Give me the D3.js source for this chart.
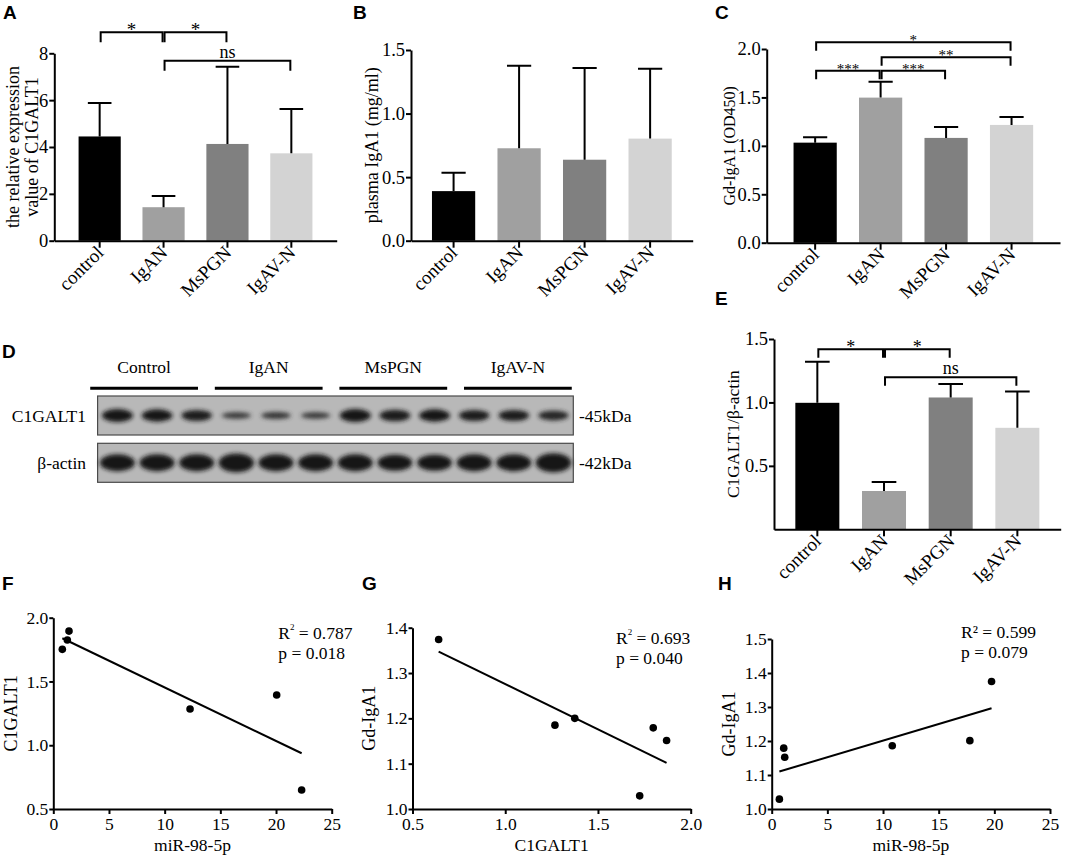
<!DOCTYPE html>
<html>
<head>
<meta charset="utf-8">
<script src="https://cdn.jsdelivr.net/npm/d3@7"></script>
<style>
body { margin: 0; background: #fff; }
svg text { font-family: "Liberation Serif", "Times New Roman", serif; fill: #000; }
.panel { font-family: "Liberation Sans", Arial, sans-serif !important; font-weight: bold; font-size: 19px; }
</style>
</head>
<body>
<svg id="fig" width="1065" height="856"></svg>
<script>
// groups shared by all bar panels
const groups = ["control", "IgAN", "MsPGN", "IgAV-N"];
const groupFill = ["#000000", "#a0a0a0", "#808080", "#d3d3d3"];

// A: relative expression of C1GALT1 (mean, sd)
const relExprMean = [4.45, 1.43, 4.13, 3.73];
const relExprSd = [1.43, 0.48, 3.30, 1.89];
// B: plasma IgA1 (mg/ml)
const igA1Mean = [0.39, 0.727, 0.637, 0.803];
const igA1Sd = [0.145, 0.65, 0.722, 0.55];
// C: Gd-IgA1 (OD450)
const gdMean = [1.033, 1.498, 1.082, 1.216];
const gdSd = [0.056, 0.165, 0.113, 0.083];
// E: C1GALT1 / beta-actin
const ratioMean = [0.997, 0.302, 1.039, 0.80];
const ratioSd = [0.323, 0.07, 0.107, 0.287];

// significance comparisons [from, to, label]
const sigA = [[0, 1, "*"], [1, 2, "*"], [1, 3, "ns"]];
const sigC = [[0, 3, "*"], [1, 3, "**"], [0, 1, "***"], [1, 2, "***"]];
const sigE = [[0, 1, "*"], [1, 2, "*"], [1, 3, "ns"]];

// D: western blot
const blotGroups = ["Control", "IgAN", "MsPGN", "IgAV-N"];
const blotRows = ["C1GALT1", "β-actin"];
const blotMarkers = ["-45kDa", "-42kDa"];
const c1galt1Band = [1.0, 0.95, 0.85, 0.5, 0.55, 0.5, 1.0, 0.9, 0.95, 0.85, 0.85, 0.75];
const actinBand = [1.0, 1.0, 1.0, 1.1, 1.0, 1.0, 1.0, 0.95, 0.95, 1.0, 1.0, 1.12];

// F: miR-98-5p vs C1GALT1
const fMir = [0.81, 1.26, 1.41, 12.28, 20.06, 22.3];
const fC1galt1 = [1.752, 1.825, 1.895, 1.284, 1.394, 0.649];
// G: C1GALT1 vs Gd-IgA1
const gC1galt1 = [0.641, 1.268, 1.375, 1.798, 1.870, 1.725];
const gGd = [1.374, 1.185, 1.2, 1.179, 1.151, 1.029];
// H: miR-98-5p vs Gd-IgA1
const hMir = [0.69, 1.08, 1.17, 10.83, 17.8, 19.75];
const hGd = [1.029, 1.179, 1.152, 1.186, 1.201, 1.375];

const fStats = ["0.787", "0.018"];
const gStats = ["0.693", "0.040"];
const hStats = ["0.599", "0.079"];

const svg = d3.select("#fig");

function styleAxis(sel, size) {
  sel.attr("font-family", "Liberation Serif").attr("font-size", size);
  sel.selectAll("path, line").attr("stroke", "#000").attr("stroke-width", 2);
  sel.selectAll("text").attr("fill", "#000");
}

function barChart(cfg) {
  const g = svg.append("g");
  const x = d3.scaleBand().domain(groups).range([cfg.x0, cfg.x1])
    .paddingInner(0.34).paddingOuter(cfg.outer);
  const y = d3.scaleLinear().domain(cfg.domain).range([cfg.yBottom, cfg.yTop]);
  const cx = i => x(groups[i]) + x.bandwidth() / 2;

  g.selectAll("rect").data(cfg.mean).join("rect")
    .attr("x", (d, i) => x(groups[i]))
    .attr("width", x.bandwidth())
    .attr("y", d => y(d))
    .attr("height", d => y(0) - y(d))
    .attr("fill", (d, i) => groupFill[i]);

  // upper error bars only
  const cap = x.bandwidth() * 0.28;
  const err = g.append("g").attr("stroke", "#000").attr("stroke-width", 2).attr("fill", "none");
  cfg.mean.forEach((m, i) => {
    const top = y(m + cfg.sd[i]);
    err.append("path").attr("d", `M${cx(i)},${y(m)}V${top}M${cx(i) - cap},${top}H${cx(i) + cap}`);
  });

  g.append("g").attr("transform", `translate(${cfg.x0},0)`)
    .call(d3.axisLeft(y).tickValues(cfg.ticks).tickFormat(cfg.fmt).tickSize(5).tickPadding(1).tickSizeOuter(0))
    .call(styleAxis, 18.5);

  g.append("g").attr("transform", `translate(0,${y(0)})`)
    .call(d3.axisBottom(x).tickSize(7).tickSizeOuter(0).tickFormat(""))
    .call(styleAxis, 18);

  g.selectAll("text.xl").data(groups).join("text")
    .attr("class", "xl")
    .attr("transform", (d, i) => `translate(${cx(i) + 5},${y(0) + 13}) rotate(-45)`)
    .attr("text-anchor", "end")
    .attr("font-size", 19)
    .text(d => d);

  // y title
  const yt = g.append("text")
    .attr("transform", `translate(${cfg.titleX},${(cfg.yBottom + cfg.yTop) / 2}) rotate(-90)`)
    .attr("text-anchor", "middle")
    .attr("font-size", cfg.titleSize);
  cfg.title.forEach((t, k) => {
    yt.append("tspan").attr("x", 0).attr("dy", k === 0 ? 0 : cfg.titleSize * 1.05).text(t);
  });

  // significance brackets
  if (cfg.sig) {
    cfg.sig.forEach(([a, b, lab], k) => {
      const lv = cfg.levels[k];
      const x1 = cx(a) + 1, x2 = cx(b) - 1;
      g.append("path")
        .attr("d", `M${x1},${lv + cfg.leg}V${lv}H${x2}V${lv + cfg.leg}`)
        .attr("fill", "none").attr("stroke", "#000").attr("stroke-width", 2);
      const isNs = lab === "ns";
      g.append("text")
        .attr("x", (x1 + x2) / 2)
        .attr("y", isNs ? lv - 3 : lv + cfg.starSize * 0.29 - 1.5)
        .attr("text-anchor", "middle")
        .attr("font-size", isNs ? 18 : cfg.starSize)
        .text(lab);
    });
  }
}

barChart({
  x0: 54.3, x1: 336.7, outer: 0.38, yBottom: 240.7, yTop: 53.3, domain: [0, 8],
  ticks: [0, 2, 4, 6, 8], fmt: d3.format("d"), mean: relExprMean, sd: relExprSd,
  title: ["the relative expression", "value of C1GALT1"], titleX: 19, titleSize: 18,
  sig: sigA, levels: [32.3, 32.3, 60.7], leg: 10, starSize: 19
});

barChart({
  x0: 411, x1: 692.7, outer: 0.32, yBottom: 240.7, yTop: 50, domain: [0, 1.5],
  ticks: [0, 0.5, 1, 1.5], fmt: d3.format(".1f"), mean: igA1Mean, sd: igA1Sd,
  title: ["plasma IgA1 (mg/ml)"], titleX: 378, titleSize: 18
});

barChart({
  x0: 766.7, x1: 1060, outer: 0.41, yBottom: 242.7, yTop: 49, domain: [0, 2],
  ticks: [0, 0.5, 1, 1.5, 2], fmt: d3.format(".1f"), mean: gdMean, sd: gdSd,
  title: ["Gd-IgA1 (OD450)"], titleX: 735, titleSize: 16,
  sig: sigC, levels: [42.3, 57.3, 70.7, 70.7], leg: 8.5, starSize: 15
});

barChart({
  x0: 774, x1: 1060.7, outer: 0.32, yBottom: 529.3, yTop: 339, domain: [0, 1.5],
  ticks: [0.5, 1, 1.5], fmt: d3.format(".1f"), mean: ratioMean, sd: ratioSd,
  title: ["C1GALT1/β-actin"], titleX: 739, titleSize: 17.5,
  sig: sigE, levels: [349.3, 349.3, 377.3], leg: 8.5, starSize: 18
});

// ---- D: western blot ----
(function blot() {
  const g = svg.append("g");
  const left = 97.6, right = 573.3;
  const rowY = [396, 443.3], rowH = 39;
  const lane = d3.scalePoint().domain(d3.range(12)).range([left, right]).padding(0.5);
  const grp = d3.scaleBand().domain(blotGroups).range([84, 578]).paddingInner(0.135).paddingOuter(0.05);

  const defs = svg.append("defs");
  defs.append("filter").attr("id", "blur").attr("x", "-30%").attr("y", "-80%")
    .attr("width", "160%").attr("height", "260%")
    .append("feGaussianBlur").attr("stdDeviation", 1.9);

  g.selectAll("text.gl").data(blotGroups).join("text")
    .attr("class", "gl")
    .attr("x", d => grp(d) + grp.bandwidth() / 2)
    .attr("y", 372.7)
    .attr("text-anchor", "middle")
    .attr("font-size", 17.5)
    .text(d => d);

  g.selectAll("line.gline").data(blotGroups).join("line")
    .attr("class", "gline")
    .attr("x1", d => grp(d)).attr("x2", d => grp(d) + grp.bandwidth())
    .attr("y1", 388.3).attr("y2", 388.3)
    .attr("stroke", "#000").attr("stroke-width", 3);

  const bands = [c1galt1Band, actinBand];
  const bandRx = [15.5, 17.5], bandRy = [6.5, 8.5];
  bands.forEach((vals, r) => {
    g.append("rect")
      .attr("x", left).attr("y", rowY[r]).attr("width", right - left).attr("height", rowH)
      .attr("fill", "#b8b8b8").attr("stroke", "#4a4a4a").attr("stroke-width", 1.2);
    const cy = rowY[r] + rowH / 2;
    g.append("g").attr("filter", "url(#blur)")
      .selectAll("ellipse").data(vals).join("ellipse")
      .attr("cx", (d, i) => lane(i))
      .attr("cy", cy)
      .attr("rx", d => bandRx[r] * (0.88 + 0.12 * d))
      .attr("ry", d => bandRy[r] * d)
      .attr("fill", d => d3.interpolateRgb("#5a5a5a", "#151515")(Math.min(1, d)));
    g.append("text").attr("x", 86).attr("y", cy + 6).attr("text-anchor", "end")
      .attr("font-size", 17.5).text(blotRows[r]);
    g.append("text").attr("x", 579).attr("y", cy + 6)
      .attr("font-size", 17.5).text(blotMarkers[r]);
  });
})();

// ---- scatter panels ----
function scatter(cfg) {
  const g = svg.append("g");
  const x = d3.scaleLinear().domain(cfg.xDomain).range([cfg.x0, cfg.x1]);
  const y = d3.scaleLinear().domain(cfg.yDomain).range([cfg.yBottom, cfg.yTop]);

  g.append("g").attr("transform", `translate(${cfg.x0},0)`)
    .call(d3.axisLeft(y).tickValues(cfg.yTicks).tickFormat(d3.format(".1f")).tickSize(4).tickPadding(1).tickSizeOuter(0))
    .call(styleAxis, 17.5);
  g.append("g").attr("transform", `translate(0,${cfg.yBottom})`)
    .call(d3.axisBottom(x).tickValues(cfg.xTicks).tickFormat(cfg.xFmt).tickSize(5).tickPadding(4).tickSizeOuter(0))
    .call(styleAxis, 17.5);

  // least squares fit
  const mx = d3.mean(cfg.xs), my = d3.mean(cfg.ys);
  const sxy = d3.sum(cfg.xs, (v, i) => (v - mx) * (cfg.ys[i] - my));
  const sxx = d3.sum(cfg.xs, v => (v - mx) * (v - mx));
  const slope = sxy / sxx, icpt = my - slope * mx;
  const ext = d3.extent(cfg.xs);
  g.append("line")
    .attr("x1", x(ext[0])).attr("y1", y(icpt + slope * ext[0]))
    .attr("x2", x(ext[1])).attr("y2", y(icpt + slope * ext[1]))
    .attr("stroke", "#000").attr("stroke-width", 2);

  g.selectAll("circle").data(cfg.xs).join("circle")
    .attr("cx", d => x(d))
    .attr("cy", (d, i) => y(cfg.ys[i]))
    .attr("r", 3.8).attr("fill", "#000");

  const r2 = g.append("text").attr("x", cfg.statX).attr("y", cfg.statY).attr("font-size", 17.5);
  if (cfg.sup) {
    r2.append("tspan").text("R");
    r2.append("tspan").attr("font-size", 9).attr("dy", -9).text("2");
    r2.append("tspan").attr("dy", 9).text(" = " + cfg.stats[0]);
  } else {
    r2.text("R² = " + cfg.stats[0]);
  }
  g.append("text").attr("x", cfg.statX).attr("y", cfg.statY + 20).attr("font-size", 17.5)
    .text("p = " + cfg.stats[1]);

  g.append("text")
    .attr("x", (cfg.x0 + cfg.x1) / 2).attr("y", cfg.xTitleY)
    .attr("text-anchor", "middle").attr("font-size", 17.5).text(cfg.xTitle);
  g.append("text")
    .attr("transform", `translate(${cfg.yTitleX},${(cfg.yBottom + cfg.yTop) / 2}) rotate(-90)`)
    .attr("text-anchor", "middle").attr("font-size", 18).text(cfg.yTitle);
}

scatter({
  x0: 53.3, x1: 331.7, yBottom: 809, yTop: 617.7, xDomain: [0, 25], yDomain: [0.5, 2.0],
  xTicks: [0, 5, 10, 15, 20, 25], xFmt: d3.format("d"), yTicks: [0.5, 1, 1.5, 2],
  xs: fMir, ys: fC1galt1, stats: fStats, sup: true, statX: 278.3, statY: 639.3,
  xTitle: "miR-98-5p", xTitleY: 851, yTitle: "C1GALT1", yTitleX: 17
});

scatter({
  x0: 412.5, x1: 690.7, yBottom: 809, yTop: 627.7, xDomain: [0.5, 2.0], yDomain: [1.0, 1.4],
  xTicks: [0.5, 1, 1.5, 2], xFmt: d3.format(".1f"), yTicks: [1.0, 1.1, 1.2, 1.3, 1.4],
  xs: gC1galt1, ys: gGd, stats: gStats, sup: true, statX: 616, statY: 643.5,
  xTitle: "C1GALT1", xTitleY: 851, yTitle: "Gd-IgA1", yTitleX: 375
});

scatter({
  x0: 771.7, x1: 1050, yBottom: 809, yTop: 639, xDomain: [0, 25], yDomain: [1.0, 1.5],
  xTicks: [0, 5, 10, 15, 20, 25], xFmt: d3.format("d"), yTicks: [1.0, 1.1, 1.2, 1.3, 1.4, 1.5],
  xs: hMir, ys: hGd, stats: hStats, sup: false, statX: 961, statY: 637.5,
  xTitle: "miR-98-5p", xTitleY: 851, yTitle: "Gd-IgA1", yTitleX: 735
});

// panel letters
const panelLetters = ["A", "B", "C", "D", "E", "F", "G", "H"];
const letterPos = [[3, 19], [353, 19], [715, 19], [2, 358], [715, 305], [2, 590], [362, 590], [718, 590]];
svg.selectAll("text.panel").data(panelLetters).join("text")
  .attr("class", "panel")
  .attr("x", (d, i) => letterPos[i][0])
  .attr("y", (d, i) => letterPos[i][1])
  .text(d => d);
</script>
</body>
</html>
